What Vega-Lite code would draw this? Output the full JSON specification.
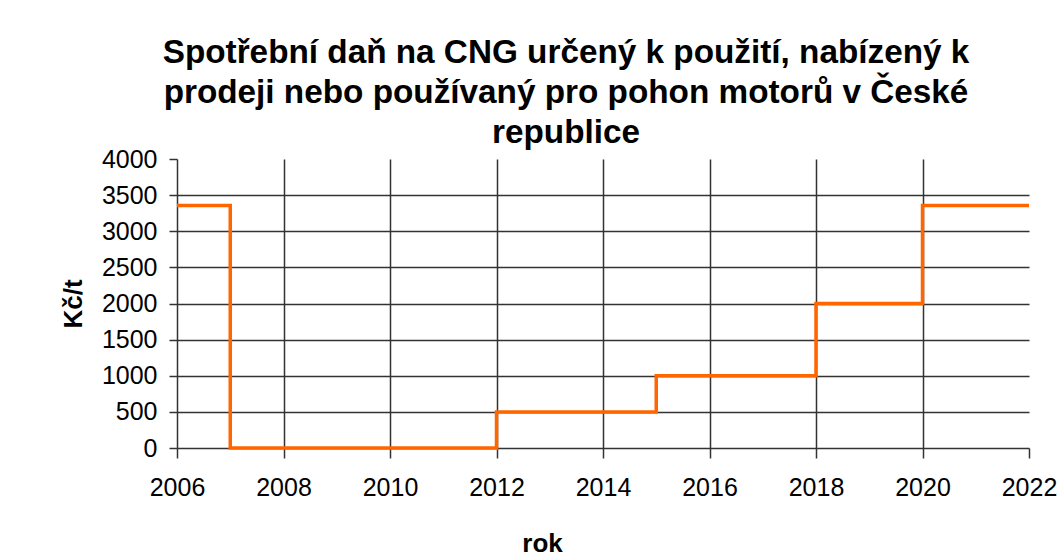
{
  "$schema": "https://vega.github.io/schema/vega-lite/v6.json",
  "width": 852,
  "height": 289,
  "autosize": "none",
  "padding": {"left": 177, "top": 159, "right": 29, "bottom": 111},
  "background": "white",
  "title": {
    "text": ["Spotřební daň na CNG určený k použití, nabízený k", "prodeji nebo používaný pro pohon motorů v České", "republice"],
    "font": "Liberation Sans",
    "fontSize": 33.3,
    "fontWeight": "bold",
    "lineHeight": 40,
    "color": "black",
    "anchor": "middle",
    "frame": "group",
    "dx": -37,
    "offset": -3
  },
  "data": {
    "values": [
      {"rok": 2006, "dan": 3355},
      {"rok": 2007, "dan": 0},
      {"rok": 2012, "dan": 500},
      {"rok": 2015, "dan": 1000},
      {"rok": 2018, "dan": 2000},
      {"rok": 2020, "dan": 3355},
      {"rok": 2022, "dan": 3355}
    ]
  },
  "mark": {"type": "line", "interpolate": "step-after", "color": "#ff6600", "strokeWidth": 3.5, "clip": false},
  "encoding": {
    "x": {
      "field": "rok",
      "type": "quantitative",
      "scale": {"domain": [2006, 2022], "nice": false, "zero": false},
      "axis": {
        "title": "rok",
        "values": [2006, 2008, 2010, 2012, 2014, 2016, 2018, 2020, 2022],
        "format": "d",
        "labelFlush": false,
        "grid": true,
        "gridOpacity": {"condition": {"test": "datum.value == 2022 || datum.value == 2006", "value": 0}, "value": 1},
        "titleX": 365,
        "titleY": 82,
        "labelPadding": 17,
        "tickSize": 10
      }
    },
    "y": {
      "field": "dan",
      "type": "quantitative",
      "scale": {"domain": [0, 4000], "nice": false},
      "axis": {
        "title": "Kč/t",
        "values": [0, 500, 1000, 1500, 2000, 2500, 3000, 3500, 4000],
        "format": "d",
        "labelFlush": false,
        "grid": true,
        "gridOpacity": {"condition": {"test": "datum.value == 4000 || datum.value == 0", "value": 0}, "value": 1},
        "labelPadding": 12,
        "tickSize": 8,
        "titlePadding": 15
      }
    }
  },
  "config": {
    "view": {"stroke": null},
    "axis": {
      "labelFont": "Liberation Sans",
      "labelFontSize": 25,
      "labelColor": "black",
      "titleFont": "Liberation Sans",
      "titleFontSize": 26,
      "titleFontWeight": "bold",
      "titleColor": "black",
      "gridColor": "#333333",
      "gridWidth": 1.5,
      "domainColor": "#333333",
      "domainWidth": 1.5,
      "tickColor": "#333333",
      "tickWidth": 1.5
    }
  }
}
